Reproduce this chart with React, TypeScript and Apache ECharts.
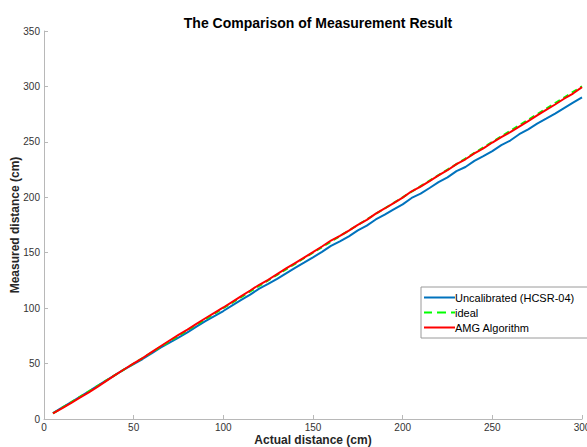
import React, { useEffect, useRef } from "react";
import * as echarts from "echarts";

const actualDistance = [5, 10, 15, 20, 25, 30, 35, 40, 45, 50, 55, 60, 65, 70, 75, 80, 85, 90, 95, 100, 105, 110, 115, 120, 125, 130, 135, 140, 145, 150, 155, 160, 165, 170, 175, 180, 185, 190, 195, 200, 205, 210, 215, 220, 225, 230, 235, 240, 245, 250, 255, 260, 265, 270, 275, 280, 285, 290, 295, 300];

const uncalibrated = [5.4, 10.3, 15.1, 20.0, 25.0, 30.1, 35.1, 40.0, 44.9, 49.6, 54.1, 59.2, 64.4, 68.9, 73.5, 78.1, 83.3, 88.3, 92.9, 97.4, 102.5, 107.5, 112.2, 117.6, 121.8, 126.4, 131.4, 136.4, 141.0, 145.8, 150.8, 156.2, 160.3, 164.8, 170.1, 174.4, 180.0, 184.3, 189.1, 193.6, 199.4, 203.3, 208.4, 213.6, 218.0, 223.6, 227.3, 232.9, 237.2, 241.7, 247.0, 251.2, 256.9, 261.3, 266.4, 270.9, 275.5, 280.5, 285.3, 290.1];

const ideal = [5, 10, 15, 20, 25, 30, 35, 40, 45, 50, 55, 60, 65, 70, 75, 80, 85, 90, 95, 100, 105, 110, 115, 120, 125, 130, 135, 140, 145, 150, 155, 160, 165, 170, 175, 180, 185, 190, 195, 200, 205, 210, 215, 220, 225, 230, 235, 240, 245, 250, 255, 260, 265, 270, 275, 280, 285, 290, 295, 300];

const amg = [5.0, 9.6, 14.3, 19.2, 24.0, 29.2, 34.6, 40.0, 45.1, 50.1, 55.0, 60.3, 65.6, 70.8, 75.9, 80.7, 85.8, 90.9, 95.8, 100.6, 105.7, 110.8, 115.9, 121.1, 125.6, 130.7, 135.8, 140.7, 145.6, 150.5, 155.6, 161.0, 165.2, 169.9, 175.1, 179.6, 185.2, 189.9, 194.8, 199.7, 205.4, 209.6, 214.6, 219.7, 224.4, 229.9, 234.3, 239.6, 244.2, 249.4, 254.3, 258.7, 263.8, 268.7, 273.9, 278.8, 283.7, 288.9, 293.6, 299.4];

const seriesNames = ["Uncalibrated (HCSR-04)", "ideal", "AMG Algorithm"];

const pairs = (ys: number[]) => actualDistance.map((x, i) => [x, ys[i]]);

const SOLID_ICON = "path://M0,0h31v2h-31z";
const DASH_ICON = "path://M0,0h8v2h-8z M13,0h9v2h-9z M27,0h4v2h-4z";

export default function App() {
  const ref = useRef<HTMLDivElement>(null);
  useEffect(() => {
    if (!ref.current) return;
    const chart = echarts.init(ref.current, undefined, { renderer: "svg" });
    const font = "Helvetica, Arial, 'Liberation Sans', sans-serif";
    const axisCommon = {
      axisLine: { show: true, lineStyle: { color: "#b8b8b8", width: 1 } },
      axisTick: { show: true, inside: true, length: 4, lineStyle: { color: "#b8b8b8" } },
      axisLabel: { color: "#333", fontSize: 10, fontFamily: font },
      splitLine: { show: false },
      nameLocation: "middle" as const,
      nameMoveOverlap: false,
      nameTextStyle: { color: "#262626", fontSize: 12, fontWeight: "bold" as const, fontFamily: font },
    };
    chart.setOption({
      animation: false,
      backgroundColor: "#fff",
      title: {
        text: "The Comparison of Measurement Result",
        left: 313,
        textAlign: "center",
        top: 11,
        textStyle: { fontSize: 14, fontWeight: "bold", color: "#000", fontFamily: font },
      },
      grid: { left: 44, right: 5, top: 31, bottom: 28, containLabel: false, outerBoundsMode: "none" },
      xAxis: {
        type: "value",
        min: 0,
        max: 300,
        interval: 50,
        name: "Actual distance (cm)",
        nameGap: 15,
        ...axisCommon,
        axisLabel: { ...axisCommon.axisLabel, margin: 3 },
      },
      yAxis: {
        type: "value",
        min: 0,
        max: 350,
        interval: 50,
        name: "Measured distance (cm)",
        nameGap: 23,
        ...axisCommon,
        axisLabel: { ...axisCommon.axisLabel, margin: 4 },
      },
      legend: {
        orient: "vertical",
        left: 421,
        top: 287,
        width: 162,
        backgroundColor: "#fff",
        borderColor: "#9a9a9a",
        borderWidth: 1,
        padding: [5, 30, 5, 3],
        itemWidth: 31,
        itemHeight: 2,
        itemGap: 4,
        textStyle: { fontSize: 11, color: "#000", fontFamily: font, padding: [0, 0, 0, -5] },
        data: [
          { name: seriesNames[0], icon: SOLID_ICON },
          { name: seriesNames[1], icon: DASH_ICON },
          { name: seriesNames[2], icon: SOLID_ICON },
        ],
      },
      series: [
        {
          name: seriesNames[0],
          type: "line",
          data: pairs(uncalibrated),
          symbol: "none",
          lineStyle: { color: "#0072BD", width: 2 },
          itemStyle: { color: "#0072BD" },
        },
        {
          name: seriesNames[1],
          type: "line",
          data: pairs(ideal),
          symbol: "none",
          lineStyle: { color: "#00ff00", width: 2, type: [6, 4] },
          itemStyle: { color: "#00ff00" },
        },
        {
          name: seriesNames[2],
          type: "line",
          data: pairs(amg),
          symbol: "none",
          lineStyle: { color: "#ff0000", width: 2 },
          itemStyle: { color: "#ff0000" },
        },
      ],
    });
    return () => chart.dispose();
  }, []);
  return (
    <div
      ref={ref}
      style={{ position: "fixed", left: 0, top: 0, width: 587, height: 447 }}
    />
  );
}
